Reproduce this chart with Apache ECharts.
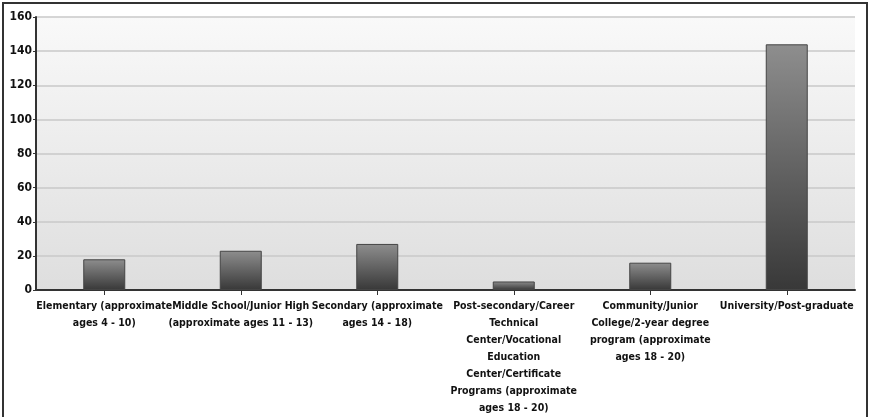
<!DOCTYPE html>
<html>
<head>
<meta charset="utf-8">
<script src="https://cdn.jsdelivr.net/npm/echarts@6/dist/echarts.min.js"></script>
<style>
  html, body { margin: 0; padding: 0; background: #ffffff; }
  #chart { width: 870px; height: 417px; }
</style>
</head>
<body>
<div id="chart"></div>
<script>
// Education level categories (line breaks as shown under each bar)
const categories = [
  'Elementary (approximate\nages 4 - 10)',
  'Middle School/Junior High\n(approximate ages 11 - 13)',
  'Secondary (approximate\nages 14 - 18)',
  'Post-secondary/Career\nTechnical\nCenter/Vocational\nEducation\nCenter/Certificate\nPrograms (approximate\nages 18 - 20)',
  'Community/Junior\nCollege/2-year degree\nprogram (approximate\nages 18 - 20)',
  'University/Post-graduate'
];

// Respondent counts per level
const counts = [18, 23, 27, 5, 16, 144];

// Value axis range
const yMin = 0;
const yMax = 160;
const yStep = 20;

const fontFamily = '"DejaVu Sans Condensed", "Liberation Sans", Arial, sans-serif';

const chart = echarts.init(document.getElementById('chart'), null, { renderer: 'canvas' });

const gridLeft = 36, gridTop = 17, gridRight = 15, gridBottom = 126;

chart.setOption({
  animation: false,
  backgroundColor: '#ffffff',
  graphic: [
    {
      // frame around the whole chart
      type: 'rect',
      shape: { x: 3, y: 3, width: 864, height: 430 },
      style: { fill: 'none', stroke: '#333333', lineWidth: 2 },
      z: 100
    },
    {
      // plot background shading
      type: 'rect',
      shape: { x: gridLeft, y: gridTop, width: 870 - gridLeft - gridRight, height: 417 - gridTop - gridBottom },
      style: {
        fill: new echarts.graphic.LinearGradient(0, 0, 0, 1, [
          { offset: 0, color: '#f9f9f9' },
          { offset: 1, color: '#dedede' }
        ])
      },
      z: -10
    }
  ],
  grid: { left: gridLeft, top: gridTop, right: gridRight, bottom: gridBottom, containLabel: false },
  xAxis: {
    type: 'category',
    data: categories,
    axisLine: { show: true, lineStyle: { color: '#333333', width: 2 } },
    axisTick: { show: true, alignWithLabel: true, length: 5, lineStyle: { color: '#333333', width: 1 } },
    axisLabel: {
      interval: 0,
      color: '#111111',
      fontFamily: fontFamily,
      fontWeight: 'bold',
      fontSize: 10.5,
      lineHeight: 17,
      margin: 8
    },
    splitLine: { show: false }
  },
  yAxis: {
    type: 'value',
    min: yMin,
    max: yMax,
    interval: yStep,
    axisLine: { show: true, lineStyle: { color: '#333333', width: 2 } },
    axisTick: { show: true, length: 3, lineStyle: { color: '#333333', width: 1 } },
    axisLabel: {
      color: '#111111',
      fontFamily: fontFamily,
      fontWeight: 'bold',
      fontSize: 12,
      margin: 4
    },
    splitLine: { show: true, lineStyle: { color: '#c8c8c8', width: 1.5 } }
  },
  series: [
    {
      type: 'bar',
      data: counts,
      barWidth: 42,
      itemStyle: {
        color: new echarts.graphic.LinearGradient(0, 0, 0, 1, [
          { offset: 0, color: '#8e8e8e' },
          { offset: 1, color: '#383838' }
        ]),
        borderColor: '#444444',
        borderWidth: 1
      }
    }
  ]
});
</script>
</body>
</html>
